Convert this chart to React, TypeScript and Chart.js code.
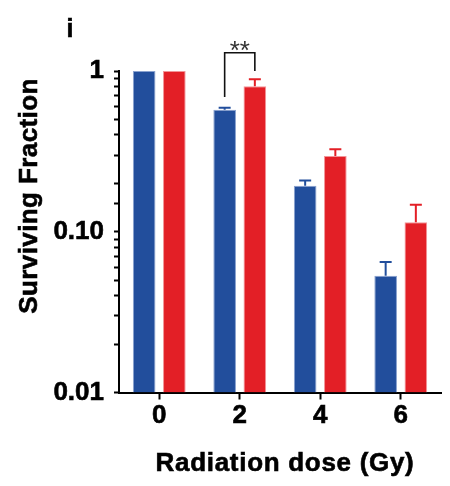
import React, { useEffect, useRef } from "react";
import { Chart, registerables } from "chart.js";

Chart.register(...registerables);

// ---- data ----
const categories = ["0", "2", "4", "6"];
const blueValues = [1.0, 0.574, 0.193, 0.0532];
const blueErrors = [0, 0.017, 0.015, 0.0116];
const redValues = [1.0, 0.803, 0.296, 0.1144];
const redErrors = [0, 0.085, 0.03, 0.033];
const yTickValues = [0.01, 0.1, 1];
const yTickLabels = ["0.01", "0.10", "1"];
const sigCategoryIndex = 1;
const sigLabel = "**";
const bracketTopValue = 1.3;
const bracketLeftEndValue = 0.69;
const bracketRightEndValue = 1.0;
const panelLabel = "i";
const xTitle = "Radiation dose (Gy)";
const yTitle = "Surviving Fraction";

const BLUE = "#224e9c";
const RED = "#e31f26";
const FONT = '"Liberation Sans", Arial, Helvetica, sans-serif';
const STROKE = 0.6;

function boldText(ctx: any, text: string, x: number, y: number) {
  ctx.fillText(text, x, y);
  ctx.lineWidth = STROKE;
  ctx.strokeStyle = ctx.fillStyle;
  ctx.strokeText(text, x, y);
}

const extrasPlugin = {
  id: "extras",
  afterDatasetsDraw(chart: any) {
    const ctx = chart.ctx;
    const yScale = chart.scales.y;
    const errs = [blueErrors, redErrors];
    const vals = [blueValues, redValues];
    const cols = [BLUE, RED];
    ctx.save();
    for (let d = 0; d < 2; d++) {
      const meta = chart.getDatasetMeta(d);
      meta.data.forEach((bar: any, j: number) => {
        const e = errs[d][j];
        if (!e) return;
        const yTop = yScale.getPixelForValue(vals[d][j] + e);
        ctx.strokeStyle = cols[d];
        ctx.lineWidth = 2;
        ctx.beginPath();
        ctx.moveTo(bar.x, bar.y);
        ctx.lineTo(bar.x, yTop);
        ctx.moveTo(bar.x - 6, yTop);
        ctx.lineTo(bar.x + 6, yTop);
        ctx.stroke();
      });
    }
    // significance bracket
    const xl = chart.getDatasetMeta(0).data[sigCategoryIndex].x;
    const xr = chart.getDatasetMeta(1).data[sigCategoryIndex].x;
    const yT = yScale.getPixelForValue(bracketTopValue);
    const yL = yScale.getPixelForValue(bracketLeftEndValue);
    const yR = yScale.getPixelForValue(bracketRightEndValue);
    ctx.strokeStyle = "#111";
    ctx.lineWidth = 1.6;
    ctx.beginPath();
    ctx.moveTo(xl, yL);
    ctx.lineTo(xl, yT);
    ctx.lineTo(xr, yT);
    ctx.lineTo(xr, yR);
    ctx.stroke();
    ctx.fillStyle = "#333";
    ctx.font = `26px ${FONT}`;
    ctx.textAlign = "center";
    ctx.textBaseline = "alphabetic";
    ctx.fillText(sigLabel, (xl + xr) / 2, yT + 6);
    ctx.restore();
  },
  afterDraw(chart: any) {
    const ctx = chart.ctx;
    ctx.save();
    ctx.fillStyle = "#000";
    ctx.textBaseline = "alphabetic";
    ctx.textAlign = "center";
    // panel label
    ctx.font = `bold 25px ${FONT}`;
    boldText(ctx, panelLabel, 70, 37);
    // x title
    ctx.font = `bold 26px ${FONT}`;
    (ctx as any).letterSpacing = "0.7px";
    boldText(ctx, xTitle, 285, 471);
    // y title
    (ctx as any).letterSpacing = "0.4px";
    ctx.translate(37, 196);
    ctx.rotate(-Math.PI / 2);
    boldText(ctx, yTitle, 0, 0);
    ctx.restore();
  },
};

export default function App() {
  const ref = useRef<HTMLCanvasElement>(null);
  useEffect(() => {
    if (!ref.current) return;
    const chart = new Chart(ref.current, {
      type: "bar",
      data: {
        labels: categories,
        datasets: [
          {
            data: blueValues,
            backgroundColor: BLUE,
            borderColor: "#8aa2cf",
            borderWidth: 1,
            borderSkipped: "start",
            categoryPercentage: 0.75,
            barPercentage: 0.75,
          },
          {
            data: redValues,
            backgroundColor: RED,
            borderColor: "#f29598",
            borderWidth: 1,
            borderSkipped: "start",
            categoryPercentage: 0.75,
            barPercentage: 0.75,
          },
        ],
      },
      options: {
        animation: false,
        responsive: false,
        devicePixelRatio: 1,
        layout: { padding: { top: 71, right: 9, bottom: 0, left: 0 } },
        plugins: { legend: { display: false }, tooltip: { enabled: false } },
        scales: {
          x: {
            type: "category",
            offset: true,
            grid: {
              display: true,
              drawOnChartArea: false,
              drawTicks: true,
              tickLength: 7,
              tickColor: "#000",
              tickWidth: 2,
              offset: false,
            },
            border: { display: true, color: "#000", width: 2 },
            ticks: {
              color: "#000",
              padding: 1,
              textStrokeColor: "#000",
              textStrokeWidth: STROKE,
              font: { family: FONT, size: 26, weight: "bold" },
            },
            afterFit: (s: any) => {
              s.height = 93.5;
            },
          },
          y: {
            type: "logarithmic",
            min: 0.01,
            max: 1,
            grid: {
              display: true,
              drawOnChartArea: false,
              drawTicks: true,
              tickLength: 5,
              tickColor: "#000",
              tickWidth: 2,
            },
            border: { display: true, color: "#000", width: 2 },
            ticks: {
              autoSkip: false,
              color: "#000",
              padding: 10,
              textStrokeColor: "#000",
              textStrokeWidth: STROKE,
              font: { family: FONT, size: 26, weight: "bold" },
              callback: (v: any) => {
                const i = yTickValues.findIndex(
                  (t) => Math.abs(t - Number(v)) / t < 1e-6
                );
                return i >= 0 ? yTickLabels[i] : "";
              },
            },
            afterFit: (s: any) => {
              s.width = 119;
            },
          },
        },
      },
      plugins: [extrasPlugin],
    } as any);
    return () => chart.destroy();
  }, []);
  return (
    <div
      style={{
        position: "fixed",
        left: 0,
        top: 0,
        width: 450,
        height: 486,
        background: "#fff",
      }}
    >
      <canvas ref={ref} width={450} height={486} />
    </div>
  );
}
